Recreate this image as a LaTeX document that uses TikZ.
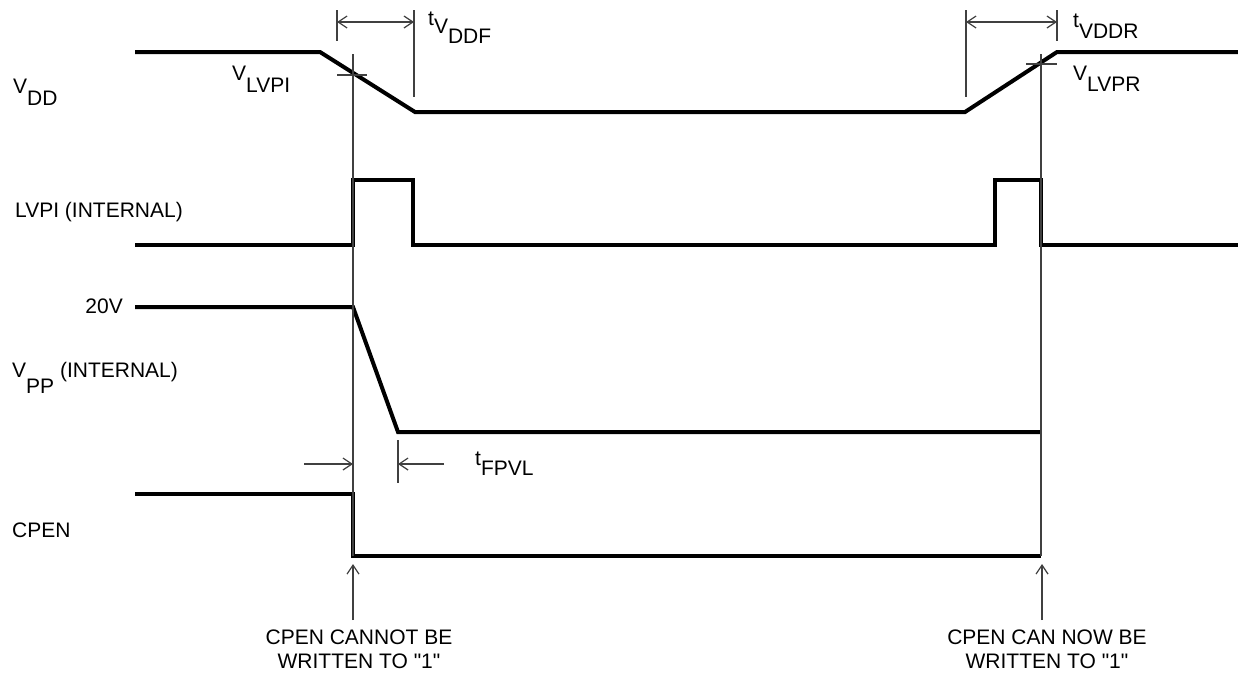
\documentclass[tikz,border=0pt]{standalone}
\usepackage{fontspec}
\setmainfont{Liberation Sans}[Ligatures=TeXOff]
\usetikzlibrary{arrows.meta}
\newcommand{\lowr}[2]{\raisebox{-#1pt}{#2}}
\newcommand{\sq}{\symbol{34}}
\tikzset{
  sig/.style={line width=4pt, line join=miter, line cap=butt, black},
  thin/.style={line width=1.4pt, draw=black!75},
  dim/.style={thin, {Straight Barb[length=9pt,width=12pt,line width=1.2pt]}-{Straight Barb[length=9pt,width=12pt,line width=1.2pt]}},
  arr/.style={thin, -{Straight Barb[length=9pt,width=12pt,line width=1.2pt]}},
  lbl/.style={inner sep=0pt, font=\fontsize{21}{23}\selectfont},
}
\begin{document}
\begin{tikzpicture}[x=1pt,y=-1pt]
\useasboundingbox (0,0) rectangle (1238,675);
% coordinates
\coordinate (v0) at (135,52); \coordinate (v1) at (320,52); \coordinate (v2) at (415,112);
\coordinate (v3) at (965,112); \coordinate (v4) at (1057,52); \coordinate (v5) at (1238,52);
% VDD
\draw[sig] (v0) -- (v1) -- (v2) -- (v3) -- (v4) -- (v5);
% LVPI
\draw[sig] (135,245) -- (353,245) -- (353,180) -- (413,180) -- (413,245) -- (995,245) -- (995,180) -- (1041,180) -- (1041,245) -- (1238,245);
% VPP
\draw[sig] (135,307) -- (353,307) -- (398,432) -- (1041,432);
% CPEN
\draw[sig] (135,494) -- (353,494) -- (353,556) -- (1041,556);
% main verticals
\coordinate (m1t) at (353,54); \coordinate (m1b) at (353,556);
\coordinate (m2t) at (1041,54); \coordinate (m2b) at (1041,556);
\draw[thin] (m1t) -- (m1b);
\draw[thin] (m2t) -- (m2b);
% crossing ticks
\draw[thin] (337,75) -- (367,75);
\draw[thin] (1026,64) -- (1057,64);
% tVDDF dimension
\coordinate (a1) at (337,22); \coordinate (a2) at (414,22);
\draw[thin] (337,10) -- (337,41);
\draw[thin] (414,10) -- (414,97);
\draw[dim] (a1) -- (a2);
% tVDDR dimension
\coordinate (b1) at (966,22); \coordinate (b2) at (1057,22);
\draw[thin] (966,10) -- (966,97);
\draw[thin] (1057,10) -- (1057,41);
\draw[dim] (b1) -- (b2);
% tFPVL
\coordinate (f1) at (353,464); \coordinate (f2) at (398,464);
\draw[thin] (398,440) -- (398,483);
\draw[thin] (353,440) -- (353,483);
\draw[arr] (304,464) -- (f1);
\draw[arr] (444,464) -- (f2);
% bottom arrows
\coordinate (c1) at (353,564); \coordinate (c2) at (1042,564);
\draw[arr] (353,620) -- (c1);
\draw[arr] (1042,620) -- (c2);
% labels
\node[lbl, anchor=base west] (lvdd) at (13,93) {V\lowr{12}{DD}};
\node[lbl, anchor=base west] (lvlvpi) at (232,80) {V\lowr{12}{LVPI}};
\node[lbl, anchor=base west] (lvlvpr) at (1073,80) {V\lowr{11}{LVPR}};
\node[lbl, anchor=base west] (ltvddf) at (428,25) {t\lowr{8}{V\lowr{10}{DDF}}};
\node[lbl, anchor=base west] (ltvddr) at (1073,27) {t\lowr{11}{VDDR}};
\node[lbl, anchor=base west] (llvpi) at (15,217) {LVPI (INTERNAL)};
\node[lbl, anchor=base east] (l20v) at (123,313) {20V};
\node[lbl, anchor=base west] (lvpp) at (12,377) {V\lowr{16}{PP} (INTERNAL)};
\node[lbl, anchor=base west] (lcpen) at (12,537) {CPEN};
\node[lbl, anchor=base west] (ltfpvl) at (475,465) {t\lowr{10}{FPVL}};
\node[lbl, anchor=base] (n1a) at (359,644) {CPEN CANNOT BE};
\node[lbl, anchor=base] (n1b) at (359,668) {WRITTEN TO \sq1\sq};
\node[lbl, anchor=base] (n2a) at (1047,644) {CPEN CAN NOW BE};
\node[lbl, anchor=base] (n2b) at (1047,668) {WRITTEN TO \sq1\sq};
\end{tikzpicture}
\end{document}
